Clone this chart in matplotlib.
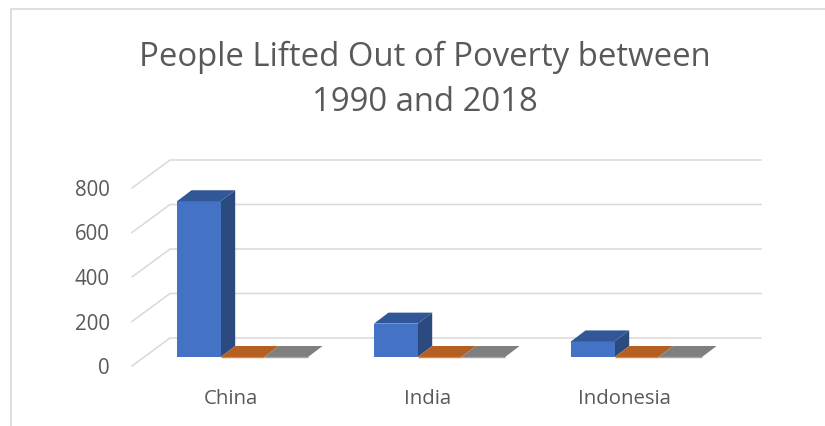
import matplotlib
matplotlib.use('Agg')
from matplotlib import pyplot as plt
from matplotlib.lines import Line2D
from matplotlib.patches import Polygon

categories = ['China', 'India', 'Indonesia']
series_1 = [700, 150, 70]
series_2 = [0, 0, 0]
series_3 = [0, 0, 0]
y_ticks = [0, 200, 400, 600, 800]
title = 'People Lifted Out of Poverty between\n1990 and 2018'

W, H = 825, 426
# front plane of the fake 3d box, in pixels
LEFT, RIGHT, BOTTOM, TOP = 132, 723, 366, 188
TEXT = '#595959'
GRID = '#D9D9D9'


def shade(ax, x0, x1, v, front, top, side, off_x, off_y, dep_x, dep_y):
	# one fake 3d bar: front face, top and right side
	y0 = off_y
	y1 = v + off_y
	x0 += off_x
	x1 += off_x
	if v > 0:
		ax.add_patch(Polygon([(x1, y0), (x1 + dep_x, y0 + dep_y), (x1 + dep_x, y1 + dep_y), (x1, y1)],
			fc = side, ec = 'none', clip_on = False, zorder = 3))
		ax.add_patch(Polygon([(x0, y0), (x1, y0), (x1, y1), (x0, y1)],
			fc = front, ec = 'none', clip_on = False, zorder = 3))
	ax.add_patch(Polygon([(x0, y1), (x1, y1), (x1 + dep_x, y1 + dep_y), (x0 + dep_x, y1 + dep_y)],
		fc = top, ec = 'none', clip_on = False, zorder = 3))
	if v == 0:
		ax.plot([x0, x1], [y0, y0], color = front, lw = 1, clip_on = False, zorder = 3, solid_capstyle = 'butt')


def main():
	plt.rcParams['font.family'] = ['Open Sans', 'DejaVu Sans']
	fig = plt.figure(figsize = (W / 100, H / 100), dpi = 100)
	ax = fig.add_axes([LEFT / W, 1 - BOTTOM / H, (RIGHT - LEFT) / W, (BOTTOM - TOP) / H])
	ax.set_xlim(0, len(categories))
	ax.set_ylim(0, 800)
	for s in ax.spines.values():
		s.set_visible(False)

	px_x = len(categories) / (RIGHT - LEFT)
	px_y = 800 / (BOTTOM - TOP)

	# back wall + diagonal side wall
	back_x = 38 * px_x
	back_y = 28 * px_y
	for t in y_ticks:
		ax.plot([0, back_x, len(categories) + back_x], [t, t + back_y, t + back_y],
			color = GRID, lw = 1.1, clip_on = False, zorder = 1, solid_joinstyle = 'miter')

	bar_w = 43.7 * px_x
	start = 33 * px_x
	off_x = 12 * px_x
	off_y = 9 * px_y
	dep_x = 14.5 * px_x
	dep_y = 11 * px_y
	for i in range(len(categories)):
		x = i + start
		shade(ax, x, x + bar_w, series_1[i], '#4472C4', '#325796', '#2A4A80', off_x, off_y, dep_x, dep_y)
		shade(ax, x + bar_w, x + 2 * bar_w, series_2[i], '#ED7D31', '#B55F22', '#B55F22', off_x, off_y, dep_x, dep_y)
		shade(ax, x + 2 * bar_w, x + 3 * bar_w, series_3[i], '#A5A5A5', '#7F7F7F', '#7F7F7F', off_x, off_y, dep_x, dep_y)

	ax.set_yticks(y_ticks)
	ax.set_yticklabels([str(t) for t in y_ticks], fontsize = 14.8, color = TEXT)
	ax.set_xticks([i + 0.5 for i in range(len(categories))])
	ax.set_xticklabels(categories, fontsize = 14.7, color = TEXT)
	ax.tick_params(axis = 'both', length = 0)
	ax.tick_params(axis = 'y', pad = 16)
	ax.tick_params(axis = 'x', pad = 16.5)

	fig.text(425 / W, 1 - 80 / H, title, ha = 'center', va = 'center', fontsize = 23.7,
		color = TEXT, linespacing = 1.47)

	# chart area border, only top and left are in the crop
	fig.add_artist(Line2D([11 / W, 11 / W, 1], [0, 1 - 9 / H, 1 - 9 / H], color = GRID, lw = 1.2))

	plt.savefig('out.png', dpi = 100)


if __name__ == '__main__':
	main()
